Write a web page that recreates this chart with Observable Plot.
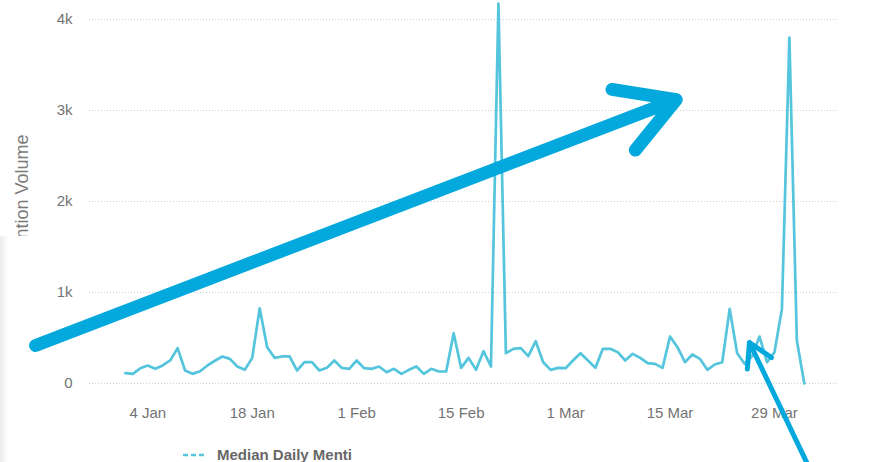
<!DOCTYPE html>
<html><head><meta charset="utf-8">
<script src="https://cdn.jsdelivr.net/npm/d3@7"></script>
<script src="https://cdn.jsdelivr.net/npm/@observablehq/plot@0.6"></script>
<style>
body{margin:0;background:#fff;font-family:"Liberation Sans",Arial,Helvetica,sans-serif;}
#wrap{position:relative;width:871px;height:462px;overflow:hidden;background:#fff;}
#ylabel{position:absolute;left:22px;top:199px;transform:translate(-50%,-50%) rotate(-90deg);white-space:nowrap;font-size:18px;color:#7a7a7a;z-index:0;}
#cover{position:absolute;left:0;top:236px;width:48px;height:226px;background:linear-gradient(to right,#ebebeb 0px,#f7f7f7 5px,#fff 9px);z-index:1;}
#chart{position:absolute;left:0;top:0;z-index:2;}
#legend{position:absolute;left:183px;top:446px;font-size:15px;font-weight:bold;color:#676767;line-height:18px;white-space:nowrap;z-index:3;display:flex;align-items:center;}
#legend svg{margin-right:11px;}
</style></head><body>
<div id="wrap">
  <div id="ylabel">Mention Volume</div>
  <div id="cover"></div>
  <div id="chart"></div>
  <div id="legend"><svg width="23" height="10"><line x1="0" x2="23" y1="5" y2="5" stroke="#54c5dc" stroke-width="2.5" stroke-dasharray="5,3"/></svg><span>Median Daily Menti</span></div>
</div>
<script>
// Daily median mention volume, starting 1 Jan 2015
const startDate = new Date(Date.UTC(2015, 0, 1));
const mentions = [113,106,168,198,161,198,253,388,143,106,135,198,250,297,271,187,150,282,827,399,
  282,297,297,143,234,234,143,172,253,172,161,253,168,161,187,124,161,106,150,187,
  106,161,132,132,553,172,282,150,355,187,4176,333,381,388,300,465,234,150,172,168,
  253,333,253,172,381,381,344,253,326,282,223,216,172,516,399,234,319,271,150,209,
  234,820,333,216,300,516,234,344,820,3802,473,0];
const xTickDates = ["2015-01-04","2015-01-18","2015-02-01","2015-02-15","2015-03-01","2015-03-15","2015-03-29"];
const yTicks = [0, 1000, 2000, 3000, 4000];
const xDomain = ["2014-12-27T04:30Z", "2015-04-06T14:00Z"];
// annotation arrows (data coordinates)
const arrowStart = ["2014-12-19T23:00Z", "2015-04-02T20:00Z"];
const arrowStartValue = [418, -956];
const arrowEnd = ["2015-03-15T20:00Z", "2015-03-25T15:30Z"];
const arrowEndValue = [3120, 451];
const arrowWidth = [13, 5];

const series = mentions.map((v, i) => ({date: d3.utcDay.offset(startDate, i), value: v}));
const arrows = arrowStart.map((s, i) => ({x1: new Date(s), y1: arrowStartValue[i], x2: new Date(arrowEnd[i]), y2: arrowEndValue[i], w: arrowWidth[i]}));

const chart = Plot.plot({
  width: 871,
  height: 440,
  marginLeft: 89,
  marginRight: 33,
  marginTop: 19,
  marginBottom: 57,
  style: {fontFamily: '"Liberation Sans", Arial, Helvetica, sans-serif', fontSize: "15px", color: "#737373", background: "transparent", overflow: "visible"},
  x: {type: "utc", domain: xDomain.map(d => new Date(d))},
  y: {domain: [0, 4000]},
  marks: [
    Plot.gridY(yTicks, {stroke: "#cfcfcf", strokeOpacity: 1, strokeDasharray: "1,2", strokeWidth: 1}),
    Plot.axisY({ticks: yTicks, tickFormat: d => d === 0 ? "0" : (d / 1000) + "k", tickSize: 0, tickPadding: 17, label: null}),
    Plot.axisX({ticks: xTickDates.map(d => new Date(d + "T00:00Z")), tickFormat: d3.utcFormat("%-d %b"), tickSize: 0, tickPadding: 24, label: null}),
    Plot.lineY(series, {x: "date", y: "value", stroke: "#54c5dc", strokeWidth: 2.7, curve: "linear"}),
    Plot.arrow(arrows.filter(a => a.w > 8), {x1: "x1", y1: "y1", x2: "x2", y2: "y2", stroke: "#03a9dd", strokeWidth: 13, headLength: 7.5}),
    Plot.arrow(arrows.filter(a => a.w <= 8), {x1: "x1", y1: "y1", x2: "x2", y2: "y2", stroke: "#03a9dd", strokeWidth: 5, headLength: 8})
  ]
});
document.getElementById("chart").appendChild(chart);
</script>
</body></html>
